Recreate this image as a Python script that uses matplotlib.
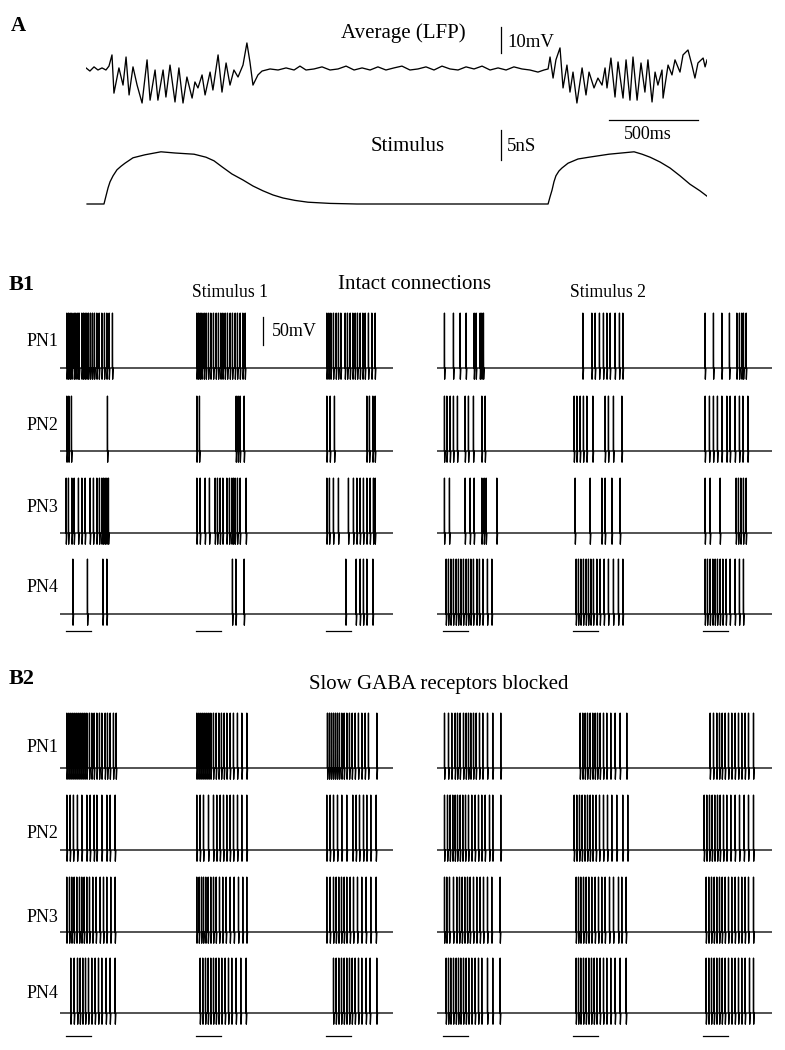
import matplotlib
matplotlib.use("Agg")
import matplotlib.pyplot as plt

plt.rcParams['font.family'] = ['Liberation Serif', 'DejaVu Serif']

W, H, DPI = 785, 1050, 100

# ---------------- Panel A data ----------------
# Average LFP: time (ms), value (mV, relative to rest)
LFP_T = [0, 22, 45, 67, 90, 112, 129,
         146, 157, 185, 208, 225, 242, 264, 287, 315, 343, 360, 388, 404, 433, 449, 472, 500, 522,
         545, 567, 596, 612, 629, 652, 669, 697, 713, 742, 764, 787, 809, 831, 854, 882, 904, 921, 938, 966,
         989, 1034, 1079, 1124, 1169, 1202, 1236, 1281, 1326, 1371, 1416, 1461, 1506, 1551, 1596, 1640,
         1685, 1730, 1775, 1820, 1865, 1910, 1955, 2000, 2045, 2090, 2135, 2180, 2225, 2270, 2315, 2360,
         2404, 2449, 2494, 2539, 2573, 2596,
         2607, 2624, 2640, 2663, 2680, 2702, 2719, 2736, 2758, 2787, 2809, 2826, 2854, 2876, 2899, 2916,
         2927, 2949, 2972, 2989, 3017, 3034, 3056, 3073, 3096, 3118, 3140, 3157, 3180, 3197, 3213, 3236,
         3242, 3270, 3292, 3309, 3337, 3354, 3382, 3404, 3421, 3438, 3467, 3478, 3489]
LFP_MV = [0.8, -0.4, 1.2, 0, 0.8, 0, 1.5,
          5.8, -8.9, 0.8, -5.8, 5.0, -9.6, 1.2, -5.8, -12.7, 3.9, -11.6, 0, -11.6, 0, -10.4, 1.9, -12.3, 0.8,
          -12.7, -2.7, -10.8, -4.6, -6.9, -1.9, -9.6, -0.8, -7.7, 5.8, -8.5, 2.7, -5.8, 0, -2.7, 1.9, 10.4, 3.1, -5.8, -1.9,
          -0.4, 0.4, 0, 0.8, 0, 1.5, 0, 0.4, 1.2, 0, 0.4, 1.5, 0, 0.8, 0, 1.2,
          0, 0.8, 1.5, 0, 0.4, 1.2, 0, 1.5, 0.4, 0, 1.2, 0.4, 1.5, 0, 0.8, 0,
          1.2, 0.4, 0, -0.8, 0, 0.4,
          5.0, -3.1, 3.9, 8.5, -6.9, 1.9, -8.5, -0.8, -12.7, 0.8, -9.6, -0.8, -6.9, -3.1, -5.8, 0.8,
          -6.9, 4.6, -10.4, 3.1, -10.8, 3.9, -11.6, 5.0, -11.6, 2.7, -8.5, 3.9, -12.3, -0.8, -5.8, 0,
          -10.8, 1.9, -1.9, 3.9, -0.8, 5.8, 7.7, 1.9, -3.1, 2.7, 4.6, 1.2, 3.9]

# Stimulus conductance: time (ms), value (nS)
STIM_T = [6, 101, 112, 124, 135, 152, 174, 197, 219, 264, 331, 421, 500, 607, 674, 719, 764, 820, 882, 938,
          994, 1051, 1107, 1174, 1247, 1371, 1522,
          2596, 2607, 2618, 2629, 2640, 2657, 2674, 2708, 2764, 2826, 2938, 3079, 3124, 3169, 3225, 3281,
          3337, 3393, 3449, 3489]
STIM_NS = [0, 0, 1.3, 2.7, 3.7, 4.7, 5.7, 6.3, 6.8, 7.7, 8.2, 8.7, 8.5, 8.3, 7.8, 7.2, 6.2, 5.0, 4.0, 3.0,
           2.2, 1.5, 1.0, 0.6, 0.3, 0.1, 0,
           0, 1.2, 2.3, 3.7, 4.7, 5.5, 6.0, 6.8, 7.5, 7.8, 8.3, 8.7, 8.3, 7.8, 7.0, 6.0,
           4.7, 3.3, 2.2, 1.3]

# ---------------- Panel B data ----------------
B_TRIAL_PERIOD = 2600   # ms between trial onsets in the concatenated traces
B_STIM_ONSET = 120      # ms, onset of stimulus in first trial
B_STIM_DUR = 500        # ms, stimulus marker length
V_REST, V_PEAK, V_AHP = -65, 33, -85   # mV
PN_NAMES = ["PN1", "PN2", "PN3", "PN4"]

# spike times (ms after stimulus onset) per trial; B1 = intact connections
B1_S1_PN1 = [[14, 46, 80, 114, 160, 194, 234, 260, 314, 346, 380, 414, 446, 486, 526, 566, 614, 660, 714, 766, 814, 860, 926],
             [14, 46, 80, 114, 160, 200, 246, 294, 346, 400, 446, 494, 534, 580, 626, 680, 726, 780, 826, 880, 934, 980],
             [14, 54, 94, 146, 200, 246, 294, 380, 426, 480, 534, 580, 626, 680, 734, 780, 846, 914, 980]]
B1_S1_PN2 = [[14, 54, 106, 826],
             [14, 66, 800, 840, 880, 960],
             [14, 80, 166, 814, 866, 934, 980]]
B1_S1_PN3 = [[0, 46, 114, 160, 246, 314, 380, 480, 546, 614, 666, 714, 746, 780, 814, 846],
             [14, 80, 180, 266, 380, 426, 480, 534, 614, 666, 714, 746, 780, 826, 880, 1000],
             [14, 66, 146, 246, 446, 546, 614, 680, 746, 814, 880, 946, 980]]
B1_S1_PN4 = [[134, 426, 734, 814],
             [726, 794, 960],
             [394, 600, 680, 746, 814, 934]]
B1_S2_PN1 = [[26, 206, 340, 460, 620, 660, 740, 774, 806],
             [194, 374, 440, 526, 606, 674, 740, 840, 926, 994],
             [40, 206, 374, 526, 674, 726, 774, 806, 860]]
B1_S2_PN2 = [[26, 74, 140, 206, 286, 440, 506, 606, 774, 840],
             [20, 74, 140, 206, 274, 394, 640, 706, 806, 974],
             [40, 126, 206, 286, 374, 474, 540, 640, 726, 794, 894]]
B1_S2_PN3 = [[26, 126, 440, 540, 620, 774, 820, 860, 1074],
             [40, 340, 574, 640, 774, 940],
             [40, 140, 340, 660, 706, 754, 806, 860]]
B1_S2_PN4 = [[60, 106, 154, 206, 260, 306, 354, 406, 460, 506, 554, 606, 674, 726, 794, 886, 974],
             [60, 106, 154, 206, 260, 306, 354, 406, 474, 540, 620, 706, 806, 906, 994],
             [40, 86, 140, 194, 240, 286, 340, 394, 460, 540, 640, 726, 806]]

# B2 = slow GABA receptors blocked
B2_S1_PN1 = [[14, 54, 94, 134, 174, 214, 254, 294, 334, 374, 414, 466, 514, 560, 614, 666, 714, 780, 826, 880, 946, 1000],
             [14, 54, 94, 134, 174, 214, 254, 294, 346, 400, 454, 506, 560, 614, 680, 746, 826, 914, 1014],
             [26, 66, 106, 146, 186, 226, 266, 314, 360, 414, 466, 520, 580, 646, 714, 780, 846, 1014]]
B2_S1_PN2 = [[14, 80, 146, 226, 314, 414, 480, 560, 614, 714, 814, 880, 980],
             [13, 80, 147, 247, 347, 413, 480, 547, 613, 680, 747, 827, 913, 1013],
             [13, 80, 147, 227, 313, 413, 533, 600, 667, 747, 813, 893, 1000]]
B2_S1_PN3 = [[13, 67, 113, 160, 213, 267, 313, 360, 413, 467, 533, 600, 680, 747, 813, 893, 980],
             [13, 60, 107, 147, 193, 240, 293, 347, 400, 467, 533, 600, 680, 760, 847, 933, 1013],
             [13, 80, 147, 200, 253, 307, 360, 413, 480, 547, 627, 713, 800, 893, 1000]]
B2_S1_PN4 = [[93, 160, 227, 280, 333, 387, 447, 513, 580, 647, 713, 800, 880, 980],
             [80, 133, 187, 240, 293, 347, 400, 453, 513, 580, 647, 713, 800, 893, 1000],
             [147, 200, 253, 307, 360, 413, 467, 520, 580, 647, 713, 800, 880, 1013]]
B2_S2_PN1 = [[27, 107, 173, 240, 287, 340, 407, 460, 507, 553, 607, 660, 727, 793, 887, 993, 1153],
             [140, 193, 240, 287, 340, 393, 440, 487, 540, 607, 673, 753, 840, 940, 1073],
             [140, 207, 273, 327, 380, 440, 507, 573, 640, 707, 773, 840, 907, 1007]]
B2_S2_PN2 = [[27, 87, 140, 193, 240, 287, 340, 393, 447, 507, 573, 640, 707, 773, 840, 927, 993, 1153],
             [20, 73, 127, 180, 233, 287, 340, 393, 460, 527, 607, 687, 773, 873, 993, 1093],
             [20, 73, 127, 180, 233, 287, 340, 407, 473, 553, 640, 727, 820, 907, 1007]]
B2_S2_PN3 = [[27, 73, 127, 207, 273, 327, 380, 433, 487, 540, 607, 673, 740, 807, 887, 973, 1140],
             [60, 107, 153, 207, 260, 313, 373, 440, 507, 573, 640, 727, 807, 907, 973, 1060],
             [60, 113, 167, 220, 273, 327, 380, 440, 507, 573, 640, 707, 773, 840, 907, 1007]]
B2_S2_PN4 = [[60, 107, 153, 207, 260, 307, 353, 407, 460, 513, 573, 640, 707, 773, 887, 993, 1140],
             [60, 107, 153, 207, 260, 313, 367, 420, 473, 540, 607, 673, 753, 840, 940, 1060],
             [60, 113, 167, 220, 273, 327, 380, 440, 507, 573, 640, 707, 773, 840, 927, 1007]]

# ---------------- drawing helpers ----------------
fig = plt.figure(figsize=(W / DPI, H / DPI), dpi=DPI)
fig.patch.set_facecolor("white")


def px_axes(x0, x1, ytop, ybot):
    ax = fig.add_axes([x0 / W, 1 - ybot / H, (x1 - x0) / W, (ybot - ytop) / H])
    ax.set_axis_off()
    return ax


def ftext(x, y, s, **kw):
    fig.text(x / W, 1 - y / H, s, **kw)


LW = 0.95
TXT = dict(color="black")

# ---------------- Panel A ----------------
A_X0, A_X1 = 86, 707
A_MS_PER_PX = 500 / 89.0
A_TMAX = (A_X1 - A_X0) * A_MS_PER_PX
LFP_PX_PER_MV, LFP_ZERO_PX = 2.6, 70
axL = px_axes(A_X0, A_X1, 20, 112)
axL.set_xlim(0, A_TMAX)
axL.set_ylim((LFP_ZERO_PX - 112) / LFP_PX_PER_MV, (LFP_ZERO_PX - 20) / LFP_PX_PER_MV)
axL.plot(LFP_T, LFP_MV, color="black", lw=LW)
bar_t = (501 - A_X0) * A_MS_PER_PX
lfp_bar_bottom = (LFP_ZERO_PX - 53) / LFP_PX_PER_MV
axL.plot([bar_t, bar_t], [lfp_bar_bottom, lfp_bar_bottom + 10], color="black", lw=0.9, clip_on=False)
axL.text(bar_t + 6 * A_MS_PER_PX, lfp_bar_bottom + 4, "10mV", ha="left", va="center", fontsize=13.5, **TXT)
axL.text((403 - A_X0) * A_MS_PER_PX, (LFP_ZERO_PX - 33) / LFP_PX_PER_MV, "Average (LFP)",
         ha="center", va="center", fontsize=15, **TXT)

ST_PX_PER_NS, ST_ZERO_PX = 6.0, 204
axS = px_axes(A_X0, A_X1, 112, 215)
axS.set_xlim(0, A_TMAX)
axS.set_ylim((ST_ZERO_PX - 215) / ST_PX_PER_NS, (ST_ZERO_PX - 112) / ST_PX_PER_NS)
axS.plot(STIM_T, STIM_NS, color="black", lw=LW)
st_bar_bottom = (ST_ZERO_PX - 160) / ST_PX_PER_NS
axS.plot([bar_t, bar_t], [st_bar_bottom, st_bar_bottom + 5], color="black", lw=0.9)
axS.text(bar_t + 6 * A_MS_PER_PX, st_bar_bottom + 2.2, "5nS", ha="left", va="center", fontsize=13.5, **TXT)
axS.text((408 - A_X0) * A_MS_PER_PX, st_bar_bottom + 2.2, "Stimulus", ha="center", va="center", fontsize=15, **TXT)
tb0 = (609 - A_X0) * A_MS_PER_PX
tb_y = (ST_ZERO_PX - 120) / ST_PX_PER_NS
axS.plot([tb0, tb0 + 500], [tb_y, tb_y], color="black", lw=0.9)
axS.text(tb0 + 220, (ST_ZERO_PX - 135) / ST_PX_PER_NS, "500ms", ha="center", va="center", fontsize=13, **TXT)

ftext(18, 26, "A", ha="center", va="center", fontsize=15, fontweight="bold", **TXT)

# ---------------- Panel B ----------------
B_MS_PER_PX = 20.0
B_PX_PER_MV = 0.56


def trace_xy(trials):
    t, v = [0.0], [V_REST]
    for k, spikes in enumerate(trials):
        onset = B_STIM_ONSET + k * B_TRIAL_PERIOD
        for s in spikes:
            T = onset + s
            t += [T, T + 3, T + 7, T + 18]
            v += [V_REST, V_PEAK, V_AHP, V_REST]
    return t, v


def draw_row(x0, x1, base, trials, underline_off=None):
    ax = px_axes(x0, x1, base - 64, base + 26)
    ax.set_xlim(0, (x1 - x0) * B_MS_PER_PX)
    ax.set_ylim(V_REST - 26 / B_PX_PER_MV, V_REST + 64 / B_PX_PER_MV)
    t, v = trace_xy(trials)
    t.append((x1 - x0) * B_MS_PER_PX)
    v.append(V_REST)
    ax.plot(t, v, color="black", lw=LW)
    if underline_off is not None:
        yu = V_REST - underline_off / B_PX_PER_MV
        for k in range(len(trials)):
            on = B_STIM_ONSET + k * B_TRIAL_PERIOD
            ax.plot([on, on + B_STIM_DUR], [yu, yu], color="black", lw=0.9, clip_on=False)
    return ax


LEFT = (60, 393)
RIGHT = (437, 772)

B1_BASE = [368, 451, 533, 614]
B1_LBL = [342, 425, 508, 587]
B1_LEFT = [B1_S1_PN1, B1_S1_PN2, B1_S1_PN3, B1_S1_PN4]
B1_RIGHT = [B1_S2_PN1, B1_S2_PN2, B1_S2_PN3, B1_S2_PN4]

B2_BASE = [768, 850, 932, 1013]
B2_LBL = [747, 833, 917, 993]
B2_LEFT = [B2_S1_PN1, B2_S1_PN2, B2_S1_PN3, B2_S1_PN4]
B2_RIGHT = [B2_S2_PN1, B2_S2_PN2, B2_S2_PN3, B2_S2_PN4]

for i in range(4):
    ul = 17 if i == 3 else None
    axl = draw_row(LEFT[0], LEFT[1], B1_BASE[i], B1_LEFT[i], ul)
    draw_row(RIGHT[0], RIGHT[1], B1_BASE[i], B1_RIGHT[i], ul)
    ftext(27, B1_LBL[i], PN_NAMES[i], ha="left", va="center", fontsize=13, **TXT)
    if i == 0:
        sb_t = (263 - LEFT[0]) * B_MS_PER_PX
        sb_bot = V_REST + (B1_BASE[0] - 345) / B_PX_PER_MV
        axl.plot([sb_t, sb_t], [sb_bot, sb_bot + 50], color="black", lw=0.9)
        axl.text(sb_t + 9 * B_MS_PER_PX, sb_bot + 25, "50mV", ha="left", va="center", fontsize=13, **TXT)

for i in range(4):
    ul = 23 if i == 3 else None
    draw_row(LEFT[0], LEFT[1], B2_BASE[i], B2_LEFT[i], ul)
    draw_row(RIGHT[0], RIGHT[1], B2_BASE[i], B2_RIGHT[i], ul)
    ftext(27, B2_LBL[i], PN_NAMES[i], ha="left", va="center", fontsize=13, **TXT)

ftext(22, 285, "B1", ha="center", va="center", fontsize=16, fontweight="bold", **TXT)
ftext(414, 285, "Intact connections", ha="center", va="center", fontsize=15, **TXT)
ftext(230, 293, "Stimulus 1", ha="center", va="center", fontsize=12.7, **TXT)
ftext(608, 293, "Stimulus 2", ha="center", va="center", fontsize=12.7, **TXT)

ftext(22, 679, "B2", ha="center", va="center", fontsize=16, fontweight="bold", **TXT)
ftext(439, 684, "Slow GABA receptors blocked", ha="center", va="center", fontsize=15, **TXT)

fig.savefig("out.png", dpi=DPI, facecolor="white")
